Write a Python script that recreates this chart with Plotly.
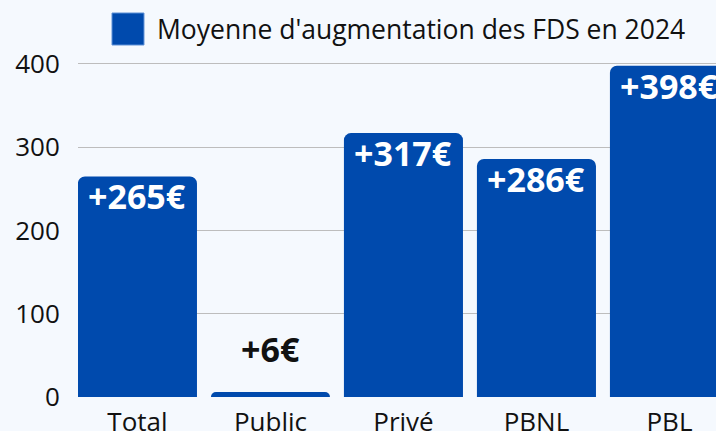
import plotly.graph_objects as go

categories = ["Total", "Public", "Privé", "PBNL", "PBL"]
values = [265, 6, 317, 286, 398]
label_inside = [True, False, True, True, True]
y_ticks = [0, 100, 200, 300, 400]
legend_name = "Moyenne d'augmentation des FDS en 2024"

BAR = "#004AAD"
BG = "#F5F9FE"
FONT = "Open Sans"

fig = go.Figure()
fig.add_trace(go.Bar(
    x=categories,
    y=values,
    name=legend_name,
    marker=dict(color=BAR, cornerradius=7, line=dict(width=0)),
    showlegend=False,
    hoverinfo="x+y",
))

# value labels anchored on the bar tops
for cat, val, inside in zip(categories, values, label_inside):
    fig.add_annotation(
        x=cat, y=val, xref="x", yref="y",
        text=f"+{val}€", showarrow=False,
        yanchor="top" if inside else "bottom",
        yshift=5 if inside else 18,
        font=dict(family=FONT, size=34, weight="bold",
                  color="white" if inside else "#111111"),
    )

# manual legend (large swatch + text)
fig.add_shape(type="rect", xref="paper", yref="paper",
              x0=0.0533, x1=0.1034, y0=1.0353, y1=1.1294,
              fillcolor=BAR, line=dict(width=1, color="#5b8fd6"))
fig.add_annotation(xref="paper", yref="paper", x=0.1207, y=1.0824,
                   xanchor="left", yanchor="middle", showarrow=False,
                   text=legend_name,
                   font=dict(family=FONT, size=26.5, color="#111111"))

fig.update_layout(
    width=716, height=431,
    margin=dict(l=78, r=0, t=57, b=34, pad=0, autoexpand=False),
    paper_bgcolor=BG, plot_bgcolor=BG,
    bargap=0.105,
    font=dict(family=FONT, size=26, color="#111111"),
    xaxis=dict(type="category", range=[-0.447, 4.35], showgrid=False,
               showline=False, zeroline=False, ticks="",
               ticklabelstandoff=7, automargin=False,
               tickfont=dict(family=FONT, size=26, color="#111111")),
    yaxis=dict(range=[0, 408.4], tickvals=y_ticks, showgrid=True,
               gridcolor="#BDBDBD", gridwidth=1, zeroline=False,
               showline=False, ticks="outside", ticklen=12,
               tickcolor="rgba(0,0,0,0)", automargin=False,
               tickfont=dict(family=FONT, size=26, color="#111111")),
)

fig.write_html("out.html")
